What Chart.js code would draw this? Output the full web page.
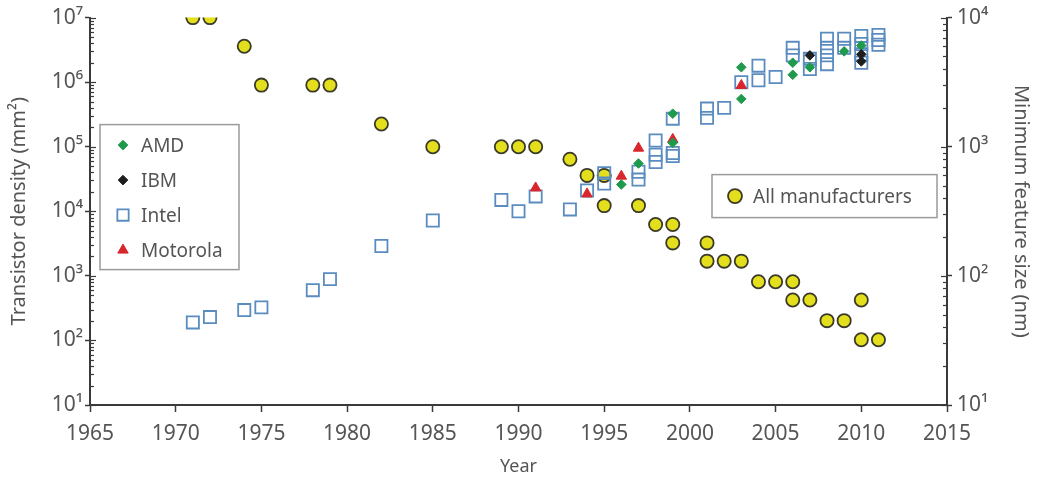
<!DOCTYPE html>
<html>
<head>
<meta charset="utf-8">
<script src="https://cdn.jsdelivr.net/npm/chart.js@4"></script>
<style>
  html, body { margin: 0; padding: 0; background: #fff; }
  #wrap { width: 1038px; height: 483px; position: relative; }
</style>
</head>
<body>
<div id="wrap"><canvas id="chart"></canvas></div>
<script>
'use strict';

// --- data ---
const yearTicks = [1965, 1970, 1975, 1980, 1985, 1990, 1995, 2000, 2005, 2010, 2015];
const densityTicks = [1e1, 1e2, 1e3, 1e4, 1e5, 1e6, 1e7];
const featureTicks = [1e1, 1e2, 1e3, 1e4];

// All manufacturers: minimum feature size (nm), right axis
const allYears = [1971, 1972, 1974, 1975, 1978, 1979, 1982, 1985, 1989, 1990, 1991, 1993, 1994, 1995, 1995, 1997,
  1998, 1999, 1999, 2001, 2001, 2002, 2003, 2004, 2005, 2006, 2006, 2007, 2008, 2009, 2010, 2010, 2011];
const allFeatureNm = [10000, 10000, 6000, 3000, 3000, 3000, 1500, 1000, 1000, 1000, 1000, 800, 600, 600, 350, 350,
  250, 250, 180, 180, 130, 130, 130, 90, 90, 90, 65, 65, 45, 45, 65, 32, 32];

// Transistor density (per mm2), left axis
const intelYears = [1971, 1972, 1974, 1975, 1978, 1979, 1982, 1985, 1989, 1990, 1991, 1993, 1994, 1995, 1995,
  1997, 1997, 1998, 1998, 1998, 1999, 1999, 1999, 2001, 2001, 2002, 2003, 2004, 2004, 2005, 2006, 2006,
  2007, 2007, 2008, 2008, 2008, 2008, 2009, 2009, 2010, 2010, 2010, 2010, 2011, 2011, 2011];
const intelDensity = [190, 230, 295, 325, 600, 890, 2900, 7200, 15000, 10000, 17000, 10700, 21000, 39000, 27000,
  41000, 31000, 125000, 75000, 58000, 272000, 80000, 72000, 390000, 280000, 400000, 1000000, 1800000, 1070000, 1200000, 3400000, 2600000,
  2300000, 1600000, 4700000, 3400000, 2600000, 1900000, 4700000, 3400000, 5200000, 3900000, 2700000, 2000000, 5400000, 4500000, 3800000];

const amdYears = [1996, 1997, 1999, 1999, 2003, 2003, 2006, 2006, 2007, 2009, 2010];
const amdDensity = [26000, 55000, 325000, 115000, 1700000, 550000, 2000000, 1300000, 1700000, 3000000, 3700000];

const ibmYears = [2007, 2010, 2010];
const ibmDensity = [2600000, 2700000, 2100000];

const motorolaYears = [1991, 1994, 1996, 1997, 1999, 2003];
const motorolaDensity = [23000, 18600, 35000, 95000, 130000, 890000];

// --- style ---
const TEXT = '#555';
const AXIS = '#3a3a3a';
const FONT = "'Noto Sans', 'DejaVu Sans', sans-serif";
const SUP = ['\u2070', '\u00b9', '\u00b2', '\u00b3', '\u2074', '\u2075', '\u2076', '\u2077'];

const zip = (xs, ys) => xs.map((x, i) => ({ x, y: ys[i] }));
const powLabel = v => '10' + SUP[Math.round(Math.log10(v))];

const SERIES = {
  amd:      { label: 'AMD',      pointStyle: 'rectRot',  radius: 4.8, fill: '#1f9a4c', stroke: '#1f9a4c', bw: 1 },
  ibm:      { label: 'IBM',      pointStyle: 'rectRot',  radius: 4.8, fill: '#1e1e1e', stroke: '#1e1e1e', bw: 1 },
  intel:    { label: 'Intel',    pointStyle: 'rect',     radius: 8.6, fill: 'rgba(0,0,0,0)', stroke: '#5b8cc0', bw: 1.8 },
  motorola: { label: 'Motorola', pointStyle: 'triangle', radius: 6,   fill: '#d8262c', stroke: '#d8262c', bw: 1 },
  all:      { label: 'All manufacturers', pointStyle: 'circle', radius: 6.6, fill: '#e4df1d', stroke: '#3b3a28', bw: 1.8 }
};

function ds(key, data, axis) {
  const s = SERIES[key];
  return {
    label: s.label, data, yAxisID: axis,
    pointStyle: s.pointStyle, pointRadius: s.radius, pointHoverRadius: s.radius,
    backgroundColor: s.fill, borderColor: s.stroke, borderWidth: s.bw, showLine: false
  };
}

// minor ticks inside the plot on both log axes
const minorTicks = {
  id: 'minorTicks',
  afterDraw(chart) {
    const { ctx, chartArea: a } = chart;
    ctx.save();
    ctx.strokeStyle = AXIS;
    ctx.lineWidth = 1.2;
    [['y', a.left, 1], ['y2', a.right, -1]].forEach(([id, edge, dir]) => {
      const s = chart.scales[id];
      const e0 = Math.round(Math.log10(s.min)), e1 = Math.round(Math.log10(s.max));
      for (let e = e0; e <= e1; e++) {
        for (let k = 1; k <= 9; k++) {
          if (e === e1 && k > 1) break;
          const py = Math.round(s.getPixelForValue(k * Math.pow(10, e))) + 0.5;
          const len = k === 1 ? 6 : 4;
          ctx.beginPath();
          ctx.moveTo(edge, py);
          ctx.lineTo(edge + dir * len, py);
          ctx.stroke();
        }
      }
    });
    ctx.restore();
  }
};

// two boxed legends, as in the figure
const boxLegends = {
  id: 'boxLegends',
  afterDraw(chart) {
    const { ctx, chartArea: a } = chart;
    const drawBox = (x, y, w, h, keys, rowH) => {
      ctx.save();
      ctx.fillStyle = '#fff';
      ctx.fillRect(x, y, w, h);
      ctx.strokeStyle = '#9a9a9a';
      ctx.lineWidth = 1.5;
      ctx.strokeRect(x, y, w, h);
      ctx.font = '19px ' + FONT;
      ctx.textBaseline = 'middle';
      keys.forEach((k, i) => {
        const s = SERIES[k];
        const cy = y + rowH / 2 + 3 + i * rowH;
        ctx.fillStyle = s.fill;
        ctx.strokeStyle = s.stroke;
        ctx.lineWidth = s.bw;
        Chart.helpers.drawPoint(ctx, { pointStyle: s.pointStyle, radius: k === 'intel' ? 8 : k === 'all' ? 7 : s.radius, rotation: 0, borderWidth: s.bw }, x + 23, cy);
        ctx.fillStyle = TEXT;
        ctx.fillText(s.label, x + 41, cy + 1);
      });
      ctx.restore();
    };
    drawBox(a.left + 10, a.top + 107, 139, 145, ['amd', 'ibm', 'intel', 'motorola'], 35);
    drawBox(a.left + 622, a.top + 157, 225, 43, ['all'], 37);
  }
};

new Chart(document.getElementById('chart'), {
  type: 'scatter',
  data: {
    datasets: [
      ds('ibm', zip(ibmYears, ibmDensity), 'y'),
      ds('amd', zip(amdYears, amdDensity), 'y'),
      ds('motorola', zip(motorolaYears, motorolaDensity), 'y'),
      ds('intel', zip(intelYears, intelDensity), 'y'),
      ds('all', zip(allYears, allFeatureNm), 'y2')
    ]
  },
  options: {
    responsive: true,
    maintainAspectRatio: false,
    animation: false,
    events: [],
    layout: { padding: { top: 15, left: 0, right: 0, bottom: 0 } },
    plugins: { legend: { display: false }, tooltip: { enabled: false } },
    scales: {
      x: {
        type: 'linear', position: 'bottom', min: 1965, max: 2015,
        afterBuildTicks: s => { s.ticks = yearTicks.map(v => ({ value: v })); },
        afterFit: s => { s.height = 78; },
        ticks: { callback: v => String(v), color: TEXT, font: { family: FONT, size: 21 }, padding: 9, maxRotation: 0, autoSkip: false },
        grid: { drawOnChartArea: false, tickLength: 7, tickWidth: 1.5, tickColor: AXIS },
        border: { color: AXIS, width: 2 },
        title: { display: true, text: 'Year', color: TEXT, font: { family: FONT, size: 18 }, padding: { top: 0, bottom: 5 } }
      },
      y: {
        type: 'logarithmic', position: 'left', min: 1e1, max: 1e7,
        afterBuildTicks: s => { s.ticks = densityTicks.map(v => ({ value: v, major: true })); },
        afterFit: s => { s.width = 90; },
        ticks: { callback: powLabel, color: TEXT, font: { family: FONT, size: 21 }, padding: 2, autoSkip: false },
        grid: { drawOnChartArea: false, tickLength: 5, tickWidth: 1.5, tickColor: AXIS },
        border: { color: AXIS, width: 2 },
        title: { display: true, text: 'Transistor density (mm\u00b2)', color: TEXT, font: { family: FONT, size: 20 }, padding: { top: 7, bottom: 0 } }
      },
      y2: {
        type: 'logarithmic', position: 'right', min: 1e1, max: 1e4,
        afterBuildTicks: s => { s.ticks = featureTicks.map(v => ({ value: v, major: true })); },
        afterFit: s => { s.width = 91; },
        ticks: { callback: powLabel, color: TEXT, font: { family: FONT, size: 21 }, padding: 5, autoSkip: false },
        grid: { drawOnChartArea: false, tickLength: 5, tickWidth: 1.5, tickColor: AXIS },
        border: { color: AXIS, width: 2 },
        title: { display: true, text: 'Minimum feature size (nm)', color: TEXT, font: { family: FONT, size: 20 }, padding: { top: 5, bottom: 0 } }
      }
    }
  },
  plugins: [minorTicks, boxLegends]
});
</script>
</body>
</html>
